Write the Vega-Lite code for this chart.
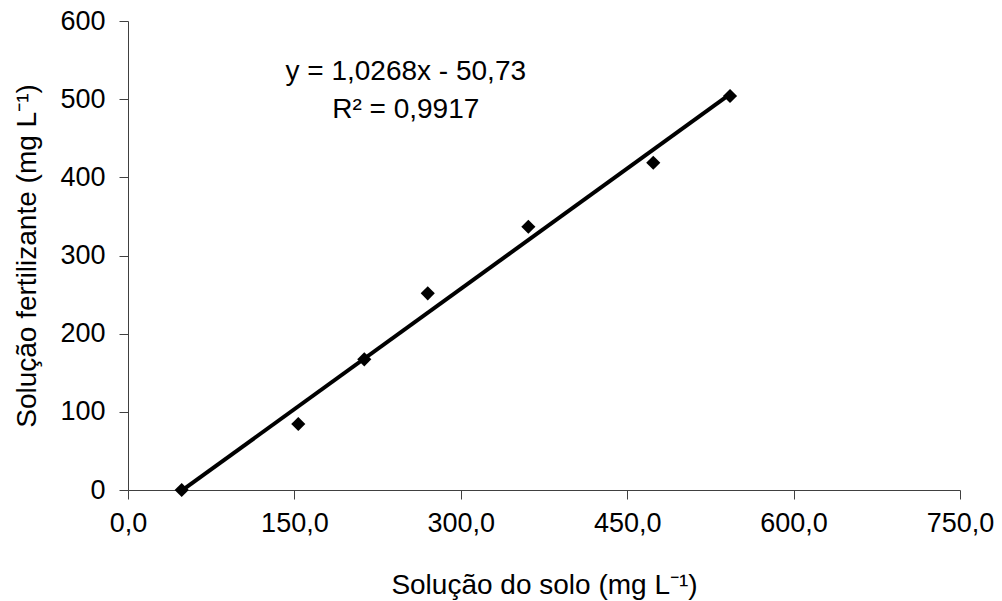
{
  "$schema": "https://vega.github.io/schema/vega-lite/v6.json",
  "width": 832,
  "height": 469,
  "autosize": {"type": "none"},
  "padding": {"left": 128, "top": 21, "right": 42, "bottom": 111},
  "background": "white",
  "config": {
    "view": {"stroke": null},
    "font": "Liberation Sans",
    "axis": {
      "grid": false,
      "domainColor": "#404040",
      "tickColor": "#404040",
      "domainWidth": 1,
      "tickWidth": 1,
      "tickSize": 9,
      "labelFont": "Liberation Sans",
      "labelFontSize": 27,
      "labelColor": "#000000",
      "titleFont": "Liberation Sans",
      "titleFontSize": 28,
      "titleFontWeight": "normal",
      "titleColor": "#000000",
      "labelOverlap": false,
      "labelFlush": false
    }
  },
  "datasets": {
    "pts": [
      {"solo": 48.4, "fert": 0},
      {"solo": 153.5, "fert": 84.4},
      {"solo": 213, "fert": 167.2},
      {"solo": 270.2, "fert": 251.6},
      {"solo": 360.9, "fert": 336.8},
      {"solo": 473.5, "fert": 418.7},
      {"solo": 542.7, "fert": 504}
    ],
    "notes": [
      {"solo": 250.4, "fert": 534.7, "label": "y = 1,0268x - 50,73"},
      {"solo": 250.4, "fert": 486, "label": "R² = 0,9917"}
    ]
  },
  "layer": [
    {
      "data": {"name": "pts"},
      "transform": [{"regression": "fert", "on": "solo", "method": "linear"}],
      "mark": {"type": "line", "color": "#000000", "strokeWidth": 4},
      "encoding": {
        "x": {
          "field": "solo", "type": "quantitative",
          "scale": {"domain": [0, 750], "nice": false, "zero": false},
          "axis": {
            "values": [0, 150, 300, 450, 600, 750],
            "labelExpr": "replace(format(datum.value, '.1f'), '.', ',')",
            "labelPadding": 11,
            "title": "Solução do solo (mg L⁻¹)",
            "titleBaseline": "alphabetic",
            "titleY": 103
          }
        },
        "y": {
          "field": "fert", "type": "quantitative",
          "scale": {"domain": [0, 600], "nice": false},
          "axis": {
            "values": [0, 100, 200, 300, 400, 500, 600],
            "labelPadding": 14,
            "title": "Solução fertilizante (mg L⁻¹)",
            "titleBaseline": "alphabetic",
            "titleX": -93
          }
        }
      }
    },
    {
      "data": {"name": "pts"},
      "mark": {"type": "point", "shape": "diamond", "filled": true, "color": "#000000", "size": 200, "opacity": 1},
      "encoding": {
        "x": {"field": "solo", "type": "quantitative"},
        "y": {"field": "fert", "type": "quantitative"}
      }
    },
    {
      "data": {"name": "notes"},
      "mark": {"type": "text", "font": "Liberation Sans", "fontSize": 28, "color": "#000000", "align": "center", "baseline": "middle"},
      "encoding": {
        "x": {"field": "solo", "type": "quantitative"},
        "y": {"field": "fert", "type": "quantitative"},
        "text": {"field": "label"}
      }
    }
  ]
}
